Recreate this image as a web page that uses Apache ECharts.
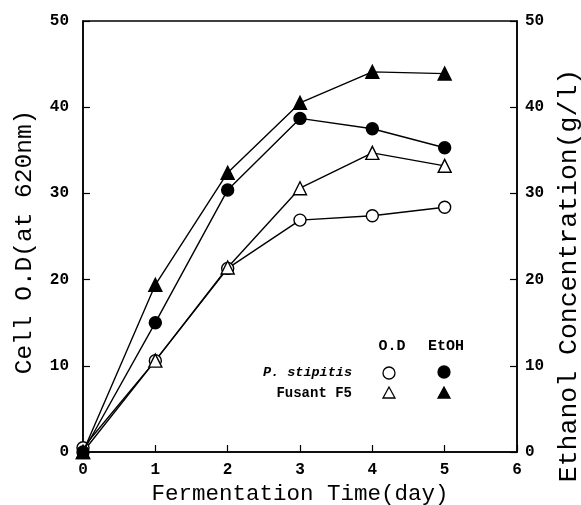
<!DOCTYPE html>
<html>
<head>
<meta charset="utf-8">
<script src="https://cdn.jsdelivr.net/npm/echarts@6/dist/echarts.min.js"></script>
<style>
  html, body { margin: 0; padding: 0; background: #fff; }
  #chart { width: 581px; height: 505px; }
</style>
</head>
<body>
<div id="chart"></div>
<script>
// fermentation time (day)
var days = [0, 1, 2, 3, 4, 5]
// cell O.D (at 620nm)
var stipitisOD = [0.5, 10.6, 21.3, 26.9, 27.4, 28.4]
var fusantOD = [0, 10.6, 21.4, 30.6, 34.7, 33.2]
// ethanol concentration (g/l)
var stipitisEtOH = [0, 15.0, 30.4, 38.7, 37.5, 35.3]
var fusantEtOH = [0, 19.4, 32.4, 40.5, 44.1, 43.9]

var mono = 'Liberation Mono'

function pairs (ys) {
  return days.map(function (d, i) { return [d, ys[i]] })
}

function makeSeries (name, ys, axis, symbol, filled) {
  return {
    name: name,
    type: 'line',
    yAxisIndex: axis,
    data: pairs(ys),
    symbol: symbol,
    symbolSize: symbol === 'circle' ? 12 : 13,
    showAllSymbol: true,
    lineStyle: { color: '#000', width: 1.4 },
    itemStyle: {
      color: filled ? '#000' : '#fff',
      borderColor: '#000',
      borderWidth: 1.4
    },
    z: filled ? 3 : 2
  }
}

var tickLabel = { color: '#000', fontFamily: mono, fontWeight: 'bold', fontSize: 16 }
var axisLine = { show: true, lineStyle: { color: '#000', width: 1.5 } }
var axisTick = { show: true, inside: true, length: 7, lineStyle: { color: '#000', width: 1.2 } }

var chart = echarts.init(document.getElementById('chart'))
chart.setOption({
  animation: false,
  backgroundColor: '#fff',
  grid: {
    left: 83, right: 64, top: 21, bottom: 53,
    outerBoundsMode: 'none',
    containLabel: false,
    show: true, borderColor: '#000', borderWidth: 1.5
  },
  xAxis: {
    type: 'value',
    min: 0, max: 6, interval: 1,
    name: 'Fermentation Time(day)',
    nameLocation: 'middle',
    nameGap: 23,
    nameTextStyle: { color: '#000', fontFamily: mono, fontSize: 22.5 },
    axisLine: axisLine,
    axisTick: axisTick,
    axisLabel: Object.assign({ margin: 10 }, tickLabel),
    splitLine: { show: false }
  },
  yAxis: [
    {
      type: 'value',
      min: 0, max: 50, interval: 10,
      name: 'Cell O.D(at 620nm)',
      nameLocation: 'middle',
      nameRotate: 90,
      nameGap: 46,
      nameTextStyle: { color: '#000', fontFamily: mono, fontSize: 24.5, padding: [0, 11, 0, 0] },
      axisLine: axisLine,
      axisTick: axisTick,
      axisLabel: Object.assign({ margin: 14 }, tickLabel),
      splitLine: { show: false }
    },
    {
      type: 'value',
      position: 'right',
      min: 0, max: 50, interval: 10,
      name: 'Ethanol Concentration(g/l)',
      nameLocation: 'middle',
      nameRotate: 90,
      nameGap: 28,
      nameTextStyle: { color: '#000', fontFamily: mono, fontSize: 26.5, padding: [0, 78, 0, 0] },
      axisLine: axisLine,
      axisTick: axisTick,
      axisLabel: Object.assign({ margin: 8 }, tickLabel),
      splitLine: { show: false }
    }
  ],
  series: [
    makeSeries('P. stipitis O.D', stipitisOD, 0, 'circle', false),
    makeSeries('Fusant F5 O.D', fusantOD, 0, 'triangle', false),
    makeSeries('P. stipitis EtOH', stipitisEtOH, 1, 'circle', true),
    makeSeries('Fusant F5 EtOH', fusantEtOH, 1, 'triangle', true)
  ],
  graphic: [
    { type: 'text', x: 392, y: 346, style: { text: 'O.D', fill: '#000', font: 'bold 15px ' + mono, align: 'center', verticalAlign: 'middle' } },
    { type: 'text', x: 446, y: 346, style: { text: 'EtOH', fill: '#000', font: 'bold 15px ' + mono, align: 'center', verticalAlign: 'middle' } },
    { type: 'text', x: 352, y: 373, style: { text: 'P. stipitis', fill: '#000', font: 'italic bold 13.5px ' + mono, align: 'right', verticalAlign: 'middle' } },
    { type: 'text', x: 352, y: 393, style: { text: 'Fusant F5', fill: '#000', font: 'bold 14px ' + mono, align: 'right', verticalAlign: 'middle' } },
    { type: 'circle', shape: { cx: 389, cy: 373, r: 6 }, style: { fill: '#fff', stroke: '#000', lineWidth: 1.3 } },
    { type: 'circle', shape: { cx: 444, cy: 372, r: 6 }, style: { fill: '#000', stroke: '#000', lineWidth: 1.3 } },
    { type: 'polygon', shape: { points: [[389, 387], [383, 398], [395, 398]] }, style: { fill: '#fff', stroke: '#000', lineWidth: 1.3 } },
    { type: 'polygon', shape: { points: [[444, 387], [438, 398], [450, 398]] }, style: { fill: '#000', stroke: '#000', lineWidth: 1.3 } }
  ]
})
</script>
</body>
</html>
